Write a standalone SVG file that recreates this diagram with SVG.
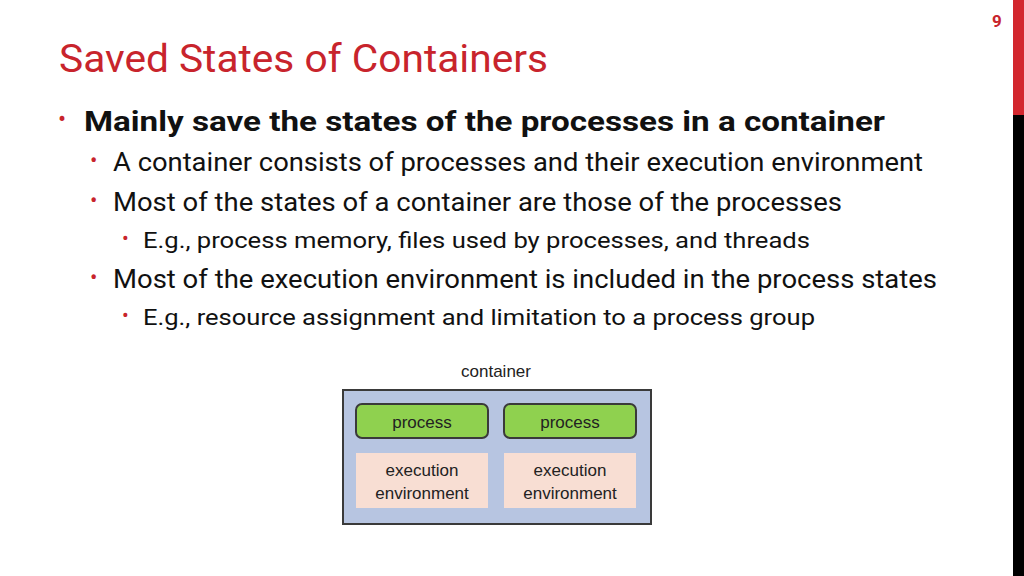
<svg xmlns="http://www.w3.org/2000/svg" width="1024" height="576" viewBox="0 0 1024 576">
<style>
.t{font-family:Roboto,"Liberation Sans",sans-serif;fill:#111}
.d{font-family:"Liberation Sans",Arial,sans-serif;font-size:17px;fill:#222;text-anchor:middle}
.b{fill:#c8242c}
.p{fill:#8fd14f;stroke:#3a3a3a;stroke-width:2}
.e{fill:#f8ded3}
</style>
<rect width="1024" height="576" fill="#fff"/>
<rect x="1013" y="0" width="11" height="115" fill="#d3272e"/>
<rect x="1013" y="115" width="11" height="461" fill="#000"/>
<text x="997" y="27" font-family="Roboto,sans-serif" font-size="17" font-weight="bold" fill="#c8242c" text-anchor="middle">9</text>
<text x="59" y="72" font-family="Roboto,sans-serif" font-size="38" fill="#c8242c" textLength="489" lengthAdjust="spacingAndGlyphs">Saved States of Containers</text>
<g id="bullets">
<text x="58" y="127" font-family="Roboto,sans-serif" font-size="24" class="b">•</text>
<text x="84" y="131" class="t" font-size="27" font-weight="bold" textLength="801" lengthAdjust="spacingAndGlyphs">Mainly save the states of the processes in a container</text>
<text x="90" y="168" font-size="22" class="b" font-family="Roboto,sans-serif">•</text>
<text x="113" y="171" class="t" font-size="25" textLength="810" lengthAdjust="spacingAndGlyphs">A container consists of processes and their execution environment</text>
<text x="90" y="208" font-size="22" class="b" font-family="Roboto,sans-serif">•</text>
<text x="113" y="211" class="t" font-size="25" textLength="729" lengthAdjust="spacingAndGlyphs">Most of the states of a container are those of the processes</text>
<text x="122" y="245" font-size="20" class="b" font-family="Roboto,sans-serif">•</text>
<text x="143" y="248" class="t" font-size="22" textLength="667" lengthAdjust="spacingAndGlyphs">E.g., process memory, files used by processes, and threads</text>
<text x="90" y="285" font-size="22" class="b" font-family="Roboto,sans-serif">•</text>
<text x="113" y="288" class="t" font-size="25" textLength="824" lengthAdjust="spacingAndGlyphs">Most of the execution environment is included in the process states</text>
<text x="122" y="322" font-size="20" class="b" font-family="Roboto,sans-serif">•</text>
<text x="143" y="325" class="t" font-size="22" textLength="672" lengthAdjust="spacingAndGlyphs">E.g., resource assignment and limitation to a process group</text>
</g>
<g id="container">
<text x="496" y="377" class="d">container</text>
<rect x="343" y="390" width="308" height="134" fill="#b7c5e1" stroke="#3a3a3a" stroke-width="2"/>
</g>
<g id="process1"><rect x="356" y="404" width="132" height="34" rx="6" class="p"/><text x="422" y="428" class="d">process</text></g>
<g id="process2"><rect x="504" y="404" width="132" height="34" rx="6" class="p"/><text x="570" y="428" class="d">process</text></g>
<g id="env1"><rect x="356" y="453" width="132" height="55" class="e"/><text x="422" y="476" class="d">execution</text><text x="422" y="499" class="d">environment</text></g>
<g id="env2"><rect x="504" y="453" width="132" height="55" class="e"/><text x="570" y="476" class="d">execution</text><text x="570" y="499" class="d">environment</text></g>
<g id="connectors"/>
</svg>
